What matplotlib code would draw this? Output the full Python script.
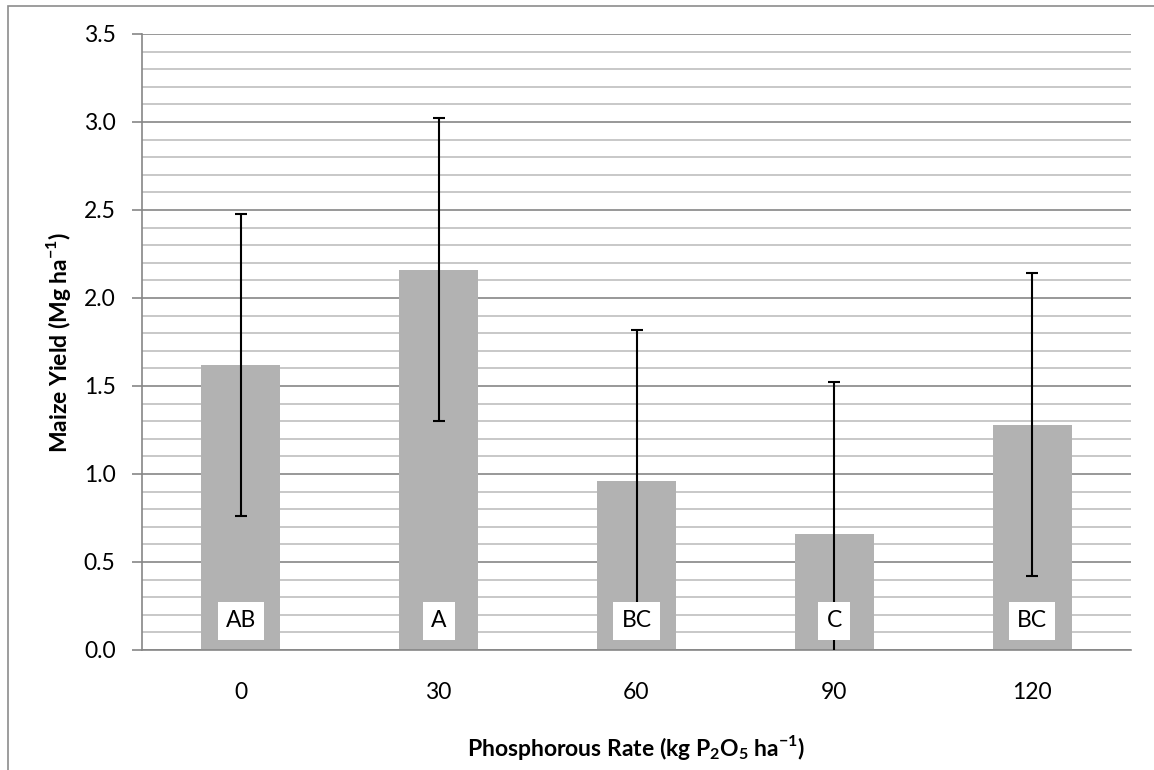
import numpy as np
import matplotlib
matplotlib.use('Agg')
import matplotlib.pyplot as plt
from matplotlib.ticker import MultipleLocator
from matplotlib.patches import Rectangle

plt.rcParams['font.family'] = ['Lato', 'DejaVu Sans']
plt.rcParams['mathtext.fontset'] = 'custom'
plt.rcParams['mathtext.rm'] = 'Lato'
plt.rcParams['mathtext.bf'] = 'Lato:bold'

# maize yield by P rate, with standard error and mean separation letters
rates = ['0', '30', '60', '90', '120']
yield_mean = [1.62, 2.16, 0.96, 0.66, 1.28]
yield_err = [0.86, 0.86, 0.86, 0.86, 0.86]
letters = ['AB', 'A', 'BC', 'C', 'BC']

fs = 16.5

fig = plt.figure(figsize=(11.54, 7.70), dpi=100)
ax = fig.add_axes([142 / 1154, 1 - 650 / 770, (1131 - 142) / 1154, (650 - 34) / 770])

# outer chart border
fig.patches.append(Rectangle((7.5 / 1154, -0.05), 1.1, 1 - 5.5 / 770 + 0.05,
                             transform=fig.transFigure, fill=False,
                             edgecolor='#8c8c8c', linewidth=1.2))

x = np.arange(len(rates))
ax.bar(x, yield_mean, width=0.4, color='#b2b2b2', zorder=2)
ax.errorbar(x, yield_mean, yerr=yield_err, fmt='none', ecolor='black',
            elinewidth=1.5, capsize=4.5, capthick=1.5, zorder=3)

for xi, lab in zip(x, letters):
    ax.text(xi, 0.165, lab, ha='center', va='center', fontsize=fs,
            zorder=4, bbox=dict(boxstyle='square,pad=0.36', facecolor='white',
                                edgecolor='none'))

ax.set_xlim(-0.5, len(rates) - 0.5)
ax.set_ylim(0, 3.5)
ax.yaxis.set_major_locator(MultipleLocator(0.5))
ax.yaxis.set_minor_locator(MultipleLocator(0.1))
ax.yaxis.set_major_formatter(plt.FormatStrFormatter('%.1f'))
ax.set_xticks(x)
ax.set_xticklabels(rates)

ax.grid(axis='y', which='major', color='#868686', linewidth=1.2, zorder=0)
ax.grid(axis='y', which='minor', color='#bfbfbf', linewidth=1.2, zorder=0)
ax.set_axisbelow(True)

for s in ['top', 'right']:
    ax.spines[s].set_visible(False)
ax.spines['left'].set_color('#868686')
ax.spines['bottom'].set_color('#868686')
ax.spines['left'].set_linewidth(1.2)
ax.spines['bottom'].set_linewidth(1.2)

ax.tick_params(axis='y', which='major', length=7, width=1.2, color='#868686',
               labelsize=fs, pad=12)
ax.tick_params(axis='y', which='minor', length=0)
ax.tick_params(axis='x', length=0, labelsize=fs, pad=23)

ax.set_ylabel(r'Maize Yield (Mg ha$^{\mathbf{-1}}$)', fontsize=fs,
              fontweight='bold', labelpad=8)
ax.set_xlabel(r'Phosphorous Rate (kg P$_{\mathbf{2}}$O$_{\mathbf{5}}$ ha$^{\mathbf{-1}}$)',
              fontsize=fs, fontweight='bold', labelpad=22)

fig.savefig('out.png', dpi=100)
